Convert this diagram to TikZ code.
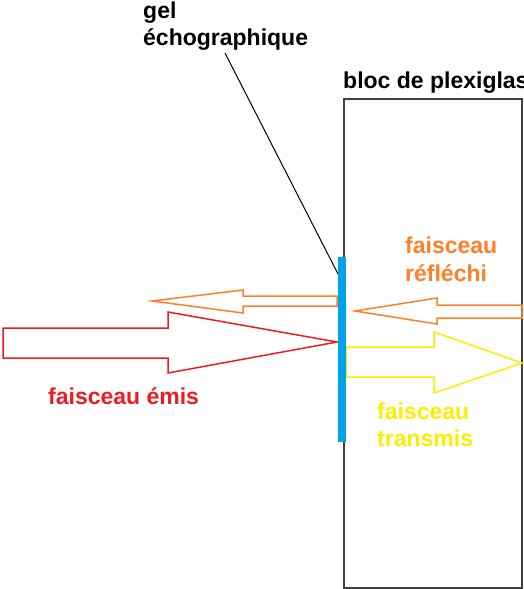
\documentclass[tikz,border=0pt]{standalone}
\usepackage{fontspec}
\setmainfont{Liberation Sans}
\definecolor{beamred}{RGB}{237,28,36}
\definecolor{beamorange}{RGB}{255,127,39}
\definecolor{beamyellow}{RGB}{255,236,0}
\definecolor{gelblue}{RGB}{0,162,232}
\definecolor{blockgray}{RGB}{64,64,64}
\tikzset{
  lbl/.style={anchor=base west, inner sep=0pt, font=\fontsize{23}{26}\selectfont\bfseries},
  beam/.style={line width=1.5pt, line join=miter},
}
\begin{document}
\begin{tikzpicture}[x=1pt, y=-1pt]
  \useasboundingbox[fill=white] (0,0) rectangle (524,589);

  % plexiglass block
  \draw[blockgray, line width=1.5pt] (344,99) rectangle (522,588);

  % emitted beam
  \draw[beam, beamred] (3,328) -- (168,328) -- (168,312) -- (337,342)
    -- (168,373) -- (168,358) -- (3,358) -- cycle;
  % reflected beam at the gel interface
  \draw[beam, beamorange] (337,296) -- (243,296) -- (243,290) -- (152,301)
    -- (243,313) -- (243,306) -- (337,306) -- cycle;
  % reflected beam inside the block
  \draw[beam, beamorange] (522,305) -- (437,305) -- (437,298) -- (355,311)
    -- (437,324) -- (437,318) -- (522,318) -- cycle;
  % transmitted beam
  \draw[beam, beamyellow] (346,347) -- (434,347) -- (434,332) -- (522,363)
    -- (434,393) -- (434,377) -- (346,377) -- cycle;

  % gel layer
  \fill[gelblue] (337.5,257) rectangle (345.5,442);

  % labels
  \node[lbl] (gel1) at (143,19) {gel};
  \node[lbl] (gel2) at (143,45) {échographique};
  \node[lbl] (bloc) at (343,88) {bloc de plexiglas};
  \node[lbl, text=beamorange] (refl1) at (405,253) {faisceau};
  \node[lbl, text=beamorange] (refl2) at (405,281) {réfléchi};
  \node[lbl, text=beamred] (emis) at (48,404) {faisceau émis};
  \node[lbl, text=beamyellow] (trans1) at (377,419) {faisceau};
  \node[lbl, text=beamyellow] (trans2) at (377,446) {transmis};

  % leader from the gel label to the gel layer
  \coordinate (leadstart) at (225,53);
  \coordinate (leadend) at (338,274);
  \draw[black, line width=1pt] (leadstart) -- (leadend);
\end{tikzpicture}
\end{document}
